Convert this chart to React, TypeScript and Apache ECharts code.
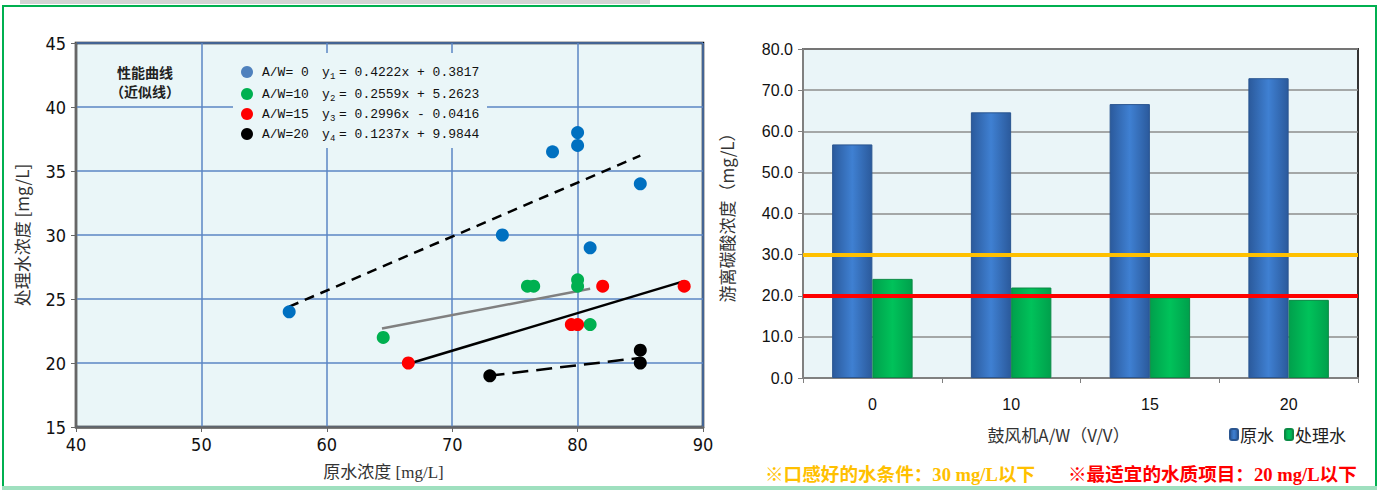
import React, { useEffect, useRef } from "react";
import * as echarts from "echarts";

// ---- left chart data (scatter) ----
const aw0Points: number[][] = [[57, 24], [74, 30], [78, 36.5], [80, 38], [80, 37], [81, 29], [85, 34]];
const aw10Points: number[][] = [[64.5, 22], [76, 26], [76.5, 26], [80, 26.5], [80, 26], [81, 23]];
const aw15Points: number[][] = [[66.5, 20], [79.5, 23], [80, 23], [82, 26], [88.5, 26]];
const aw20Points: number[][] = [[73, 19], [85, 21], [85, 20]];

// fitted lines (end points as drawn)
const fit0: number[][] = [[57, 24.4], [85, 36.2]];
const fit10: number[][] = [[64.4, 22.7], [81, 25.8]];
const fit15: number[][] = [[66.4, 19.9], [88.5, 26.4]];
const fit20: number[][] = [[72.9, 19.0], [85, 20.4]];

const legendLabels = ["A/W= 0", "A/W=10", "A/W=15", "A/W=20"];
const legendEquations = ["= 0.4222x + 0.3817", "= 0.2559x + 5.2623", "= 0.2996x - 0.0416", "= 0.1237x + 9.9844"];
const legendSubs = ["1", "2", "3", "4"];
const legendColors = ["#4f81bd", "#00b050", "#ff0000", "#000000"];

// ---- right chart data (bars) ----
const awCategories = ["0", "10", "15", "20"];
const rawWater = [56.8, 64.6, 66.6, 72.9];
const treatedWater = [24.1, 22.0, 19.6, 19.0];
const tasteLimit = 30;
const bestLimit = 20;

const narrow = "'Liberation Sans Narrow', 'DejaVu Sans Condensed', 'Liberation Sans', sans-serif";
const sans = "'Liberation Sans', 'Noto Sans CJK JP', sans-serif";
const mono = "'Liberation Mono', 'DejaVu Sans Mono', monospace";
const cjk = "'Noto Sans CJK SC', sans-serif";

export default function App() {
  const ref = useRef<HTMLDivElement>(null);
  useEffect(() => {
    document.body.style.margin = "0";
    if (!ref.current) return;
    const chart = echarts.init(ref.current, undefined, { renderer: "svg" });

    const blueGrad = new echarts.graphic.LinearGradient(0, 0, 1, 0, [
      { offset: 0, color: "#2b5a9c" },
      { offset: 0.5, color: "#3f80d2" },
      { offset: 1, color: "#2b5a9c" },
    ]);
    const greenGrad = new echarts.graphic.LinearGradient(0, 0, 1, 0, [
      { offset: 0, color: "#00a04c" },
      { offset: 0.5, color: "#00c25a" },
      { offset: 1, color: "#00a04c" },
    ]);

    const legendGraphics: any[] = [];
    const rowY = [72, 94, 114, 134];
    legendLabels.forEach((lab, i) => {
      legendGraphics.push({
        type: "circle",
        z: 101,
        shape: { cx: 247, cy: rowY[i], r: 6 },
        style: { fill: legendColors[i] },
      });
      legendGraphics.push({
        type: "text",
        z: 101,
        x: 262,
        y: rowY[i],
        style: { text: lab, font: `13px ${mono}`, fill: "#111", verticalAlign: "middle" },
      });
      legendGraphics.push({
        type: "text",
        z: 101,
        x: 322,
        y: rowY[i],
        style: { text: "y", font: `13px ${mono}`, fill: "#111", verticalAlign: "middle" },
      });
      legendGraphics.push({
        type: "text",
        z: 101,
        x: 330,
        y: rowY[i] + 5,
        style: { text: legendSubs[i], font: `9px ${mono}`, fill: "#111", verticalAlign: "middle" },
      });
      legendGraphics.push({
        type: "text",
        z: 101,
        x: 339,
        y: rowY[i],
        style: { text: legendEquations[i], font: `13px ${mono}`, fill: "#111", verticalAlign: "middle" },
      });
    });

    const option: any = {
      animation: false,
      backgroundColor: "#ffffff",
      grid: [
        {
          left: 76, top: 43, width: 627, height: 384,
          show: true, backgroundColor: "#eaf6f8", borderColor: "#000", borderWidth: 2.5,
        },
        {
          left: 803, top: 49, right: 21, height: 329,
          show: true, backgroundColor: "#eaf5f8", borderColor: "#333", borderWidth: 2,
        },
      ],
      xAxis: [
        {
          type: "value", gridIndex: 0, min: 40, max: 90, interval: 10,
          axisLine: { show: true, onZero: false, lineStyle: { color: "#666", width: 2.5 } },
          axisTick: { show: true, length: 5, lineStyle: { color: "#666" } },
          axisLabel: { color: "#111", fontSize: 18, fontFamily: narrow, margin: 8 },
          splitLine: { show: true, lineStyle: { color: "#5b86c4", width: 1.5 } },
          name: "原水浓度 [mg/L]", nameLocation: "middle", nameGap: 37,
          nameTextStyle: { color: "#333", fontSize: 17, fontFamily: "'Liberation Serif', 'Noto Sans CJK SC', serif", padding: [0, 12, 0, 0] },
        },
        {
          type: "category", gridIndex: 1, data: awCategories,
          axisLine: { show: true, lineStyle: { color: "#808080", width: 2 } },
          axisTick: { show: true, length: 5, lineStyle: { color: "#808080" } },
          axisLabel: { color: "#111", fontSize: 16, fontFamily: sans, margin: 18 },
          splitLine: { show: false },
          name: "鼓风机A/W（V/V）", nameLocation: "middle", nameGap: 48,
          nameTextStyle: { color: "#333", fontSize: 17, fontFamily: cjk, padding: [0, 44, 0, 0] },
        },
      ],
      yAxis: [
        {
          type: "value", gridIndex: 0, min: 15, max: 45, interval: 5,
          axisLine: { show: true, onZero: false, lineStyle: { color: "#666", width: 2 } },
          axisTick: { show: true, length: 5, lineStyle: { color: "#666" } },
          axisLabel: { color: "#111", fontSize: 18, fontFamily: narrow, margin: 10 },
          splitLine: { show: true, lineStyle: { color: "#5b86c4", width: 1.5 } },
          name: "处理水浓度 [mg/L]", nameLocation: "middle", nameGap: 46, nameRotate: 90,
          nameTextStyle: { color: "#333", fontSize: 17, fontFamily: cjk },
        },
        {
          type: "value", gridIndex: 1, min: 0, max: 80, interval: 10,
          axisLine: { show: true, lineStyle: { color: "#808080", width: 2 } },
          axisTick: { show: true, length: 5, lineStyle: { color: "#808080" } },
          axisLabel: { color: "#111", fontSize: 16, fontFamily: sans, margin: 10, formatter: (v: number) => v.toFixed(1) },
          splitLine: { show: true, lineStyle: { color: "#8c8c8c", width: 1.5 } },
          name: "游离碳酸浓度（mg/L）", nameLocation: "middle", nameGap: 68, nameRotate: 90,
          nameTextStyle: { color: "#333", fontSize: 17, fontFamily: cjk },
        },
      ],
      legend: {
        data: ["原水", "处理水"],
        left: 1224, top: 421, itemWidth: 8, itemHeight: 11, itemGap: 10,
        textStyle: { color: "#222", fontSize: 17, fontFamily: cjk, padding: [0, 0, 0, -3] },
      },
      series: [
        { type: "line", xAxisIndex: 0, yAxisIndex: 0, data: fit0, symbol: "none", lineStyle: { color: "#000", width: 2.5, type: [10, 7] }, z: 3 },
        { type: "line", xAxisIndex: 0, yAxisIndex: 0, data: fit10, symbol: "none", lineStyle: { color: "#808080", width: 2.5 }, z: 3 },
        { type: "line", xAxisIndex: 0, yAxisIndex: 0, data: fit15, symbol: "none", lineStyle: { color: "#000", width: 2.5 }, z: 3 },
        { type: "line", xAxisIndex: 0, yAxisIndex: 0, data: fit20, symbol: "none", lineStyle: { color: "#000", width: 2.5, type: [16, 8] }, z: 3 },
        { type: "scatter", xAxisIndex: 0, yAxisIndex: 0, data: aw0Points, symbolSize: 13, itemStyle: { color: "#0070c0", opacity: 1 }, z: 4 },
        { type: "scatter", xAxisIndex: 0, yAxisIndex: 0, data: aw10Points, symbolSize: 13, itemStyle: { color: "#00b050", opacity: 1 }, z: 4 },
        { type: "scatter", xAxisIndex: 0, yAxisIndex: 0, data: aw15Points, symbolSize: 13, itemStyle: { color: "#ff0000", opacity: 1 }, z: 4 },
        { type: "scatter", xAxisIndex: 0, yAxisIndex: 0, data: aw20Points, symbolSize: 13, itemStyle: { color: "#000000", opacity: 1 }, z: 4 },
        {
          name: "原水", type: "bar", xAxisIndex: 1, yAxisIndex: 1, data: rawWater,
          barWidth: "29%", barGap: "0%",
          itemStyle: { color: blueGrad, borderColor: "#2a5590", borderWidth: 1 },
        },
        {
          name: "处理水", type: "bar", xAxisIndex: 1, yAxisIndex: 1, data: treatedWater,
          barWidth: "29%", barGap: "0%",
          itemStyle: { color: greenGrad, borderColor: "#0b8a45", borderWidth: 1 },
          markLine: {
            silent: true, symbol: "none", label: { show: false },
            data: [
              { yAxis: tasteLimit, lineStyle: { color: "#ffc000", width: 4, type: "solid" } },
              { yAxis: bestLimit, lineStyle: { color: "#ff0000", width: 4, type: "solid" } },
            ],
          },
        },
      ],
      graphic: [
        { type: "rect", z: 0, shape: { x: 20, y: 0, width: 630, height: 4 }, style: { fill: "#d4d4d4" } },
        { type: "rect", z: 100, shape: { x: 3, y: 6, width: 1373, height: 481 }, style: { fill: "none", stroke: "#00b050", lineWidth: 2 } },
        { type: "rect", z: 100, shape: { x: 2, y: 486, width: 1375, height: 4 }, style: { fill: "#9fe0bf" } },
        { type: "rect", z: 100, shape: { x: 233, y: 53, width: 254, height: 95 }, style: { fill: "#eaf6f8" } },
        {
          type: "text", z: 101, x: 145, y: 72,
          style: { text: "性能曲线", font: `bold 14px ${cjk}`, fill: "#222", align: "center", verticalAlign: "middle" },
        },
        {
          type: "text", z: 101, x: 145, y: 91,
          style: { text: "（近似线）", font: `bold 14px ${cjk}`, fill: "#222", align: "center", verticalAlign: "middle" },
        },
        ...legendGraphics,
        {
          type: "text", z: 101, x: 765, y: 474,
          style: { text: "※口感好的水条件：30 mg/L以下", font: `bold 18.6px 'Liberation Serif', 'Noto Sans CJK SC', serif`, fill: "#ffc000", verticalAlign: "middle" },
        },
        {
          type: "text", z: 101, x: 1068, y: 474,
          style: { text: "※最适宜的水质项目：20 mg/L以下", font: `bold 18.6px 'Liberation Serif', 'Noto Sans CJK SC', serif`, fill: "#ff0000", verticalAlign: "middle" },
        },
      ],
    };
    chart.setOption(option);
    return () => chart.dispose();
  }, []);
  return <div ref={ref} style={{ width: 1379, height: 491 }} />;
}
